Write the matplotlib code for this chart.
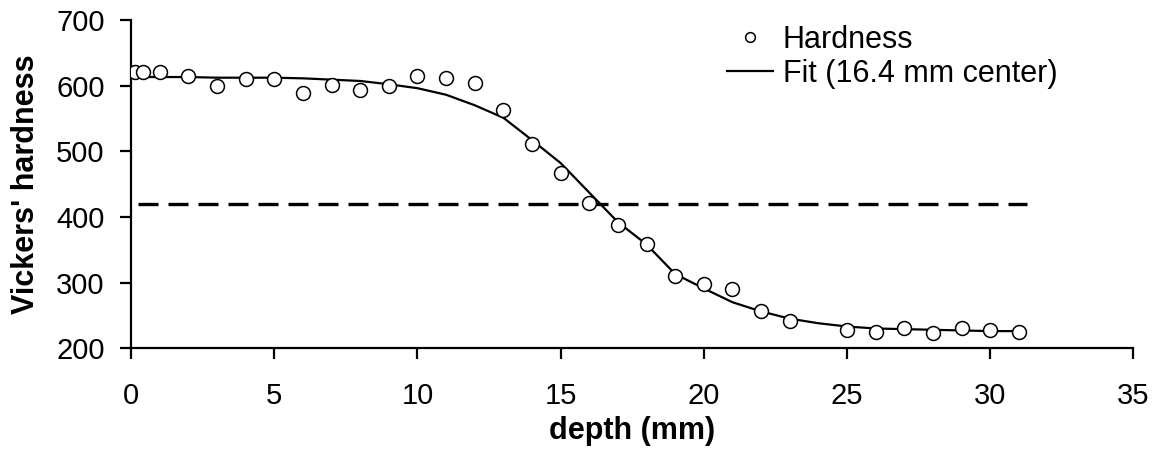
import matplotlib.pyplot as plt

plt.rcParams['font.family'] = ['Liberation Sans', 'DejaVu Sans']

# measured hardness
depth = [0.15, 0.4, 1, 2, 3, 4, 5, 6, 7, 8, 9, 10, 11, 12, 13, 14, 15, 16,
         17, 18, 19, 20, 21, 22, 23, 25, 26, 27, 28, 29, 30, 31]
hardness = [621, 621, 621, 614, 599, 610, 610, 589, 601, 593, 600, 614, 612,
            604, 563, 511, 467, 421, 387, 358, 310, 297, 290, 257, 241, 228,
            225, 230, 223, 230, 227, 225]

# fitted curve
fit_depth = list(range(0, 32))
fit_hv = [613, 613, 613, 612, 612, 612, 611, 609, 607, 602, 596, 586, 570,
          551, 517, 482, 437, 392, 358, 313, 291, 270, 256, 245, 238, 233,
          230, 229, 228, 227, 226, 226]

# threshold line
thr_depth = [0.25, 31.3]
thr_hv = [420, 420]

fig, ax = plt.subplots(figsize=(11.6, 4.63), dpi=100)
fig.subplots_adjust(left=0.113, right=0.977, top=0.957, bottom=0.248)

ax.plot(thr_depth, thr_hv, color='black', lw=2.4, ls=(0, (6, 3)))
ax.plot(fit_depth, fit_hv, color='black', lw=1.6, label='Fit (16.4 mm center)')
ax.plot(depth, hardness, 'o', ms=10, mfc='white', mec='black', mew=1.1,
        label='Hardness', zorder=3)

ax.set_xlim(0, 35)
ax.set_ylim(200, 700)
ax.set_xticks(range(0, 36, 5))
ax.set_yticks(range(200, 701, 100))
ax.spines['top'].set_visible(False)
ax.spines['right'].set_visible(False)
ax.spines['left'].set_linewidth(1.6)
ax.spines['bottom'].set_linewidth(1.6)
ax.tick_params(direction='out', length=8, width=1.6, labelsize=21)
ax.tick_params(axis='x', pad=16)
ax.tick_params(axis='y', pad=11)

ax.set_xlabel('depth (mm)', fontsize=22, fontweight='bold', labelpad=5)
ax.set_ylabel("Vickers' hardness", fontsize=22, fontweight='bold', labelpad=11)

h, l = ax.get_legend_handles_labels()
ax.legend([h[1], h[0]], [l[1], l[0]], loc='upper left', frameon=False,
          fontsize=22, markerscale=0.7, handlelength=1.5, handletextpad=0.33,
          bbox_to_anchor=(727 / 1160, 0.947), bbox_transform=fig.transFigure,
          borderpad=0, borderaxespad=0, labelspacing=0.15)

fig.savefig('out.png')
